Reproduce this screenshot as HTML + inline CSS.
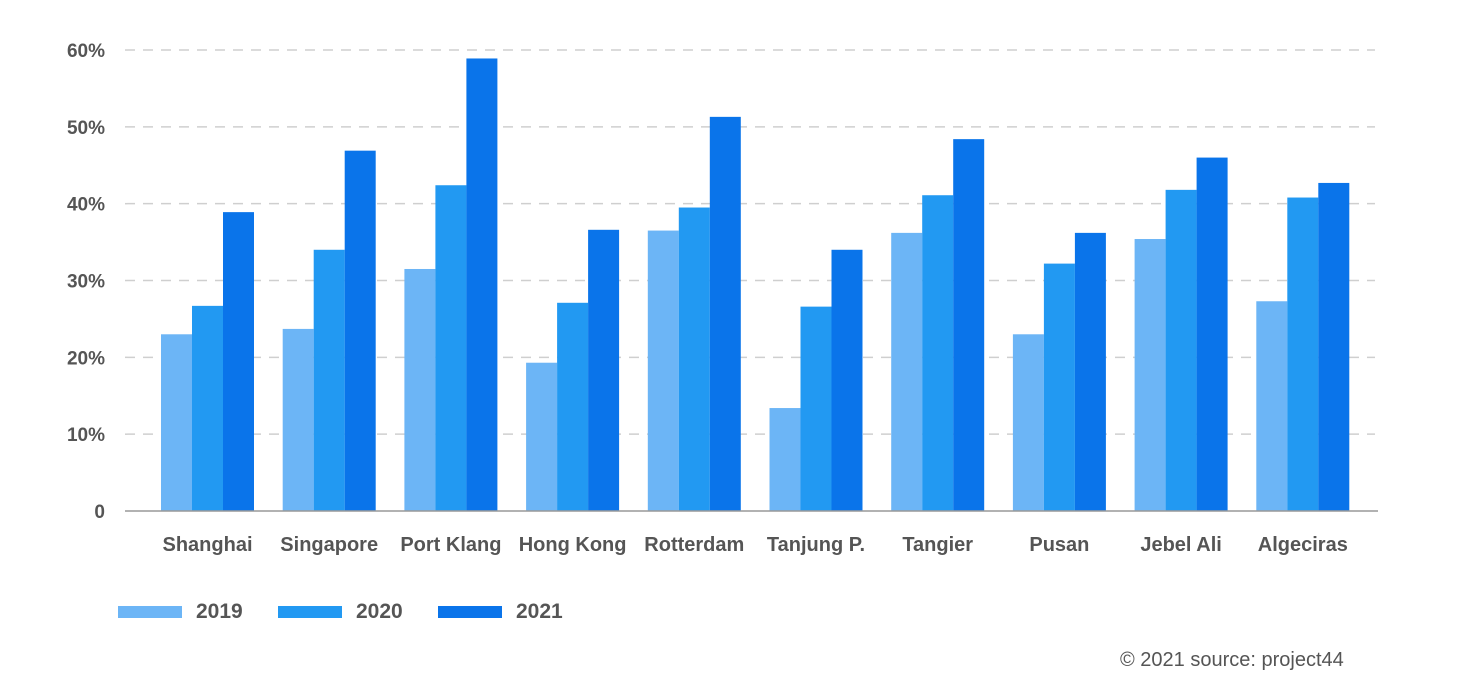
<!DOCTYPE html>
<html><head><meta charset="utf-8"><style>
body{margin:0;background:#fff;width:1473px;height:695px;overflow:hidden;font-family:"Liberation Sans",sans-serif}
svg text{font-family:"Liberation Sans",sans-serif}
</style></head><body>
<svg id="chart" width="1473" height="695" xmlns="http://www.w3.org/2000/svg"></svg>
<script>
const categories=["Shanghai","Singapore","Port Klang","Hong Kong","Rotterdam","Tanjung P.","Tangier","Pusan","Jebel Ali","Algeciras"];
const s2019=[23.0,23.7,31.5,19.3,36.5,13.4,36.2,23.0,35.4,27.3];
const s2020=[26.7,34.0,42.4,27.1,39.5,26.6,41.1,32.2,41.8,40.8];
const s2021=[38.9,46.9,58.9,36.6,51.3,34.0,48.4,36.2,46.0,42.7];
const seriesNames=["2019","2020","2021"];
const ticks=[0,10,20,30,40,50,60];
const tickLabels=["0","10%","20%","30%","40%","50%","60%"];
const colors=["#6cb5f6","#2299f2","#0a74ea"];
const svg=document.getElementById('chart');
const NS="http://www.w3.org/2000/svg";
const y0=511,pxPer=7.683;
const y=v=>y0-v*pxPer;
const x0=125,step=121.7,bw=31,off=36;
const x=i=>x0+off+i*step;
function mk(t,a){const e=document.createElementNS(NS,t);for(const k in a)e.setAttribute(k,a[k]);svg.appendChild(e);return e;}
ticks.forEach((t,i)=>{
 if(t>0){const l=mk('line',{x1:125,x2:1375,y1:y(t),y2:y(t),stroke:'#cfcfcf','stroke-width':1.5,'stroke-dasharray':'10 8'});
 
 }
 const tx=mk('text',{x:105,y:y(t)+7,'text-anchor':'end','font-size':19,'font-weight':'bold',fill:'#555'});
 tx.textContent=tickLabels[i];
 
 
});
const all=[s2019,s2020,s2021];
categories.forEach((c,i)=>{
 all.forEach((s,j)=>{
  const r=mk('rect',{x:x(i)+j*bw,y:y(s[i]),width:bw,height:y0-y(s[i]),fill:colors[j]});
  
  
 });
 const t=mk('text',{x:x(i)+bw*1.5,y:551,'text-anchor':'middle','font-size':20,'font-weight':'bold',fill:'#555'});
 t.textContent=c;
 
 
});
const ax=mk('line',{x1:125,x2:1378,y1:y0,y2:y0,stroke:'#999','stroke-width':1.5});


seriesNames.forEach((n,j)=>{
 const lx=118+j*160;
 const r=mk('rect',{x:lx,y:606,width:64,height:12,fill:colors[j]});
 
 
 const t=mk('text',{x:lx+78,y:618,'font-size':21,'font-weight':'bold',fill:'#555'});
 t.textContent=n;
 
 
});
const src=mk('text',{x:1120,y:666,'font-size':20,fill:'#555'});
src.textContent="© 2021 source: project44";


</script>
</body></html>
